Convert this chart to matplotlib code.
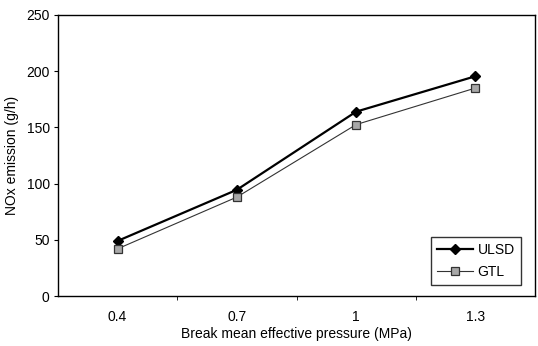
import matplotlib.pyplot as plt
import numpy as np

plt.rcParams['font.family'] = ['Liberation Sans', 'DejaVu Sans']

# data
pressure = ['0.4', '0.7', '1', '1.3']
ulsd = [49, 94.5, 164, 195.5]
gtl = [42, 88, 152.5, 185]
y_ticks = [0, 50, 100, 150, 200, 250]

fig = plt.figure(figsize=(5.38, 3.46), dpi=100)
ax = fig.add_axes([58 / 538, 50 / 346, 477 / 538, 281 / 346])

x = np.arange(len(pressure))
ax.plot(x, ulsd, color='black', lw=1.6, marker='D', ms=5.5,
        mfc='black', mec='black', label='ULSD')
ax.plot(x, gtl, color='#333333', lw=0.8, marker='s', ms=6,
        mfc='#a8a8a8', mec='#333333', mew=0.9, label='GTL')

ax.set_xlim(-0.5, len(pressure) - 0.5)
ax.set_ylim(0, 250)
ax.set_yticks(y_ticks)
ax.set_xticks(x)
ax.set_xticklabels(pressure)
ax.set_xticks(np.arange(0.5, len(pressure) - 0.5), minor=True)
ax.tick_params(axis='x', which='major', length=0, pad=10, labelsize=10)
ax.tick_params(axis='x', which='minor', length=3, direction='out')
ax.tick_params(axis='y', length=3, direction='out', labelsize=10, pad=3)

for s in ax.spines.values():
    s.set_linewidth(1.0)
    s.set_color('black')

ax.set_ylabel('NOx emission (g/h)', fontsize=10, labelpad=5)
ax.set_xlabel('Break mean effective pressure (MPa)', fontsize=10, labelpad=2)

leg = ax.legend(loc='lower right', fontsize=10, frameon=True, fancybox=False,
                edgecolor='black', handlelength=2.6, borderpad=0.45,
                labelspacing=0.55, handletextpad=0.3,
                bbox_to_anchor=(0.985, 0.015))
leg.get_frame().set_linewidth(1.0)

fig.savefig('out.png', dpi=100)
